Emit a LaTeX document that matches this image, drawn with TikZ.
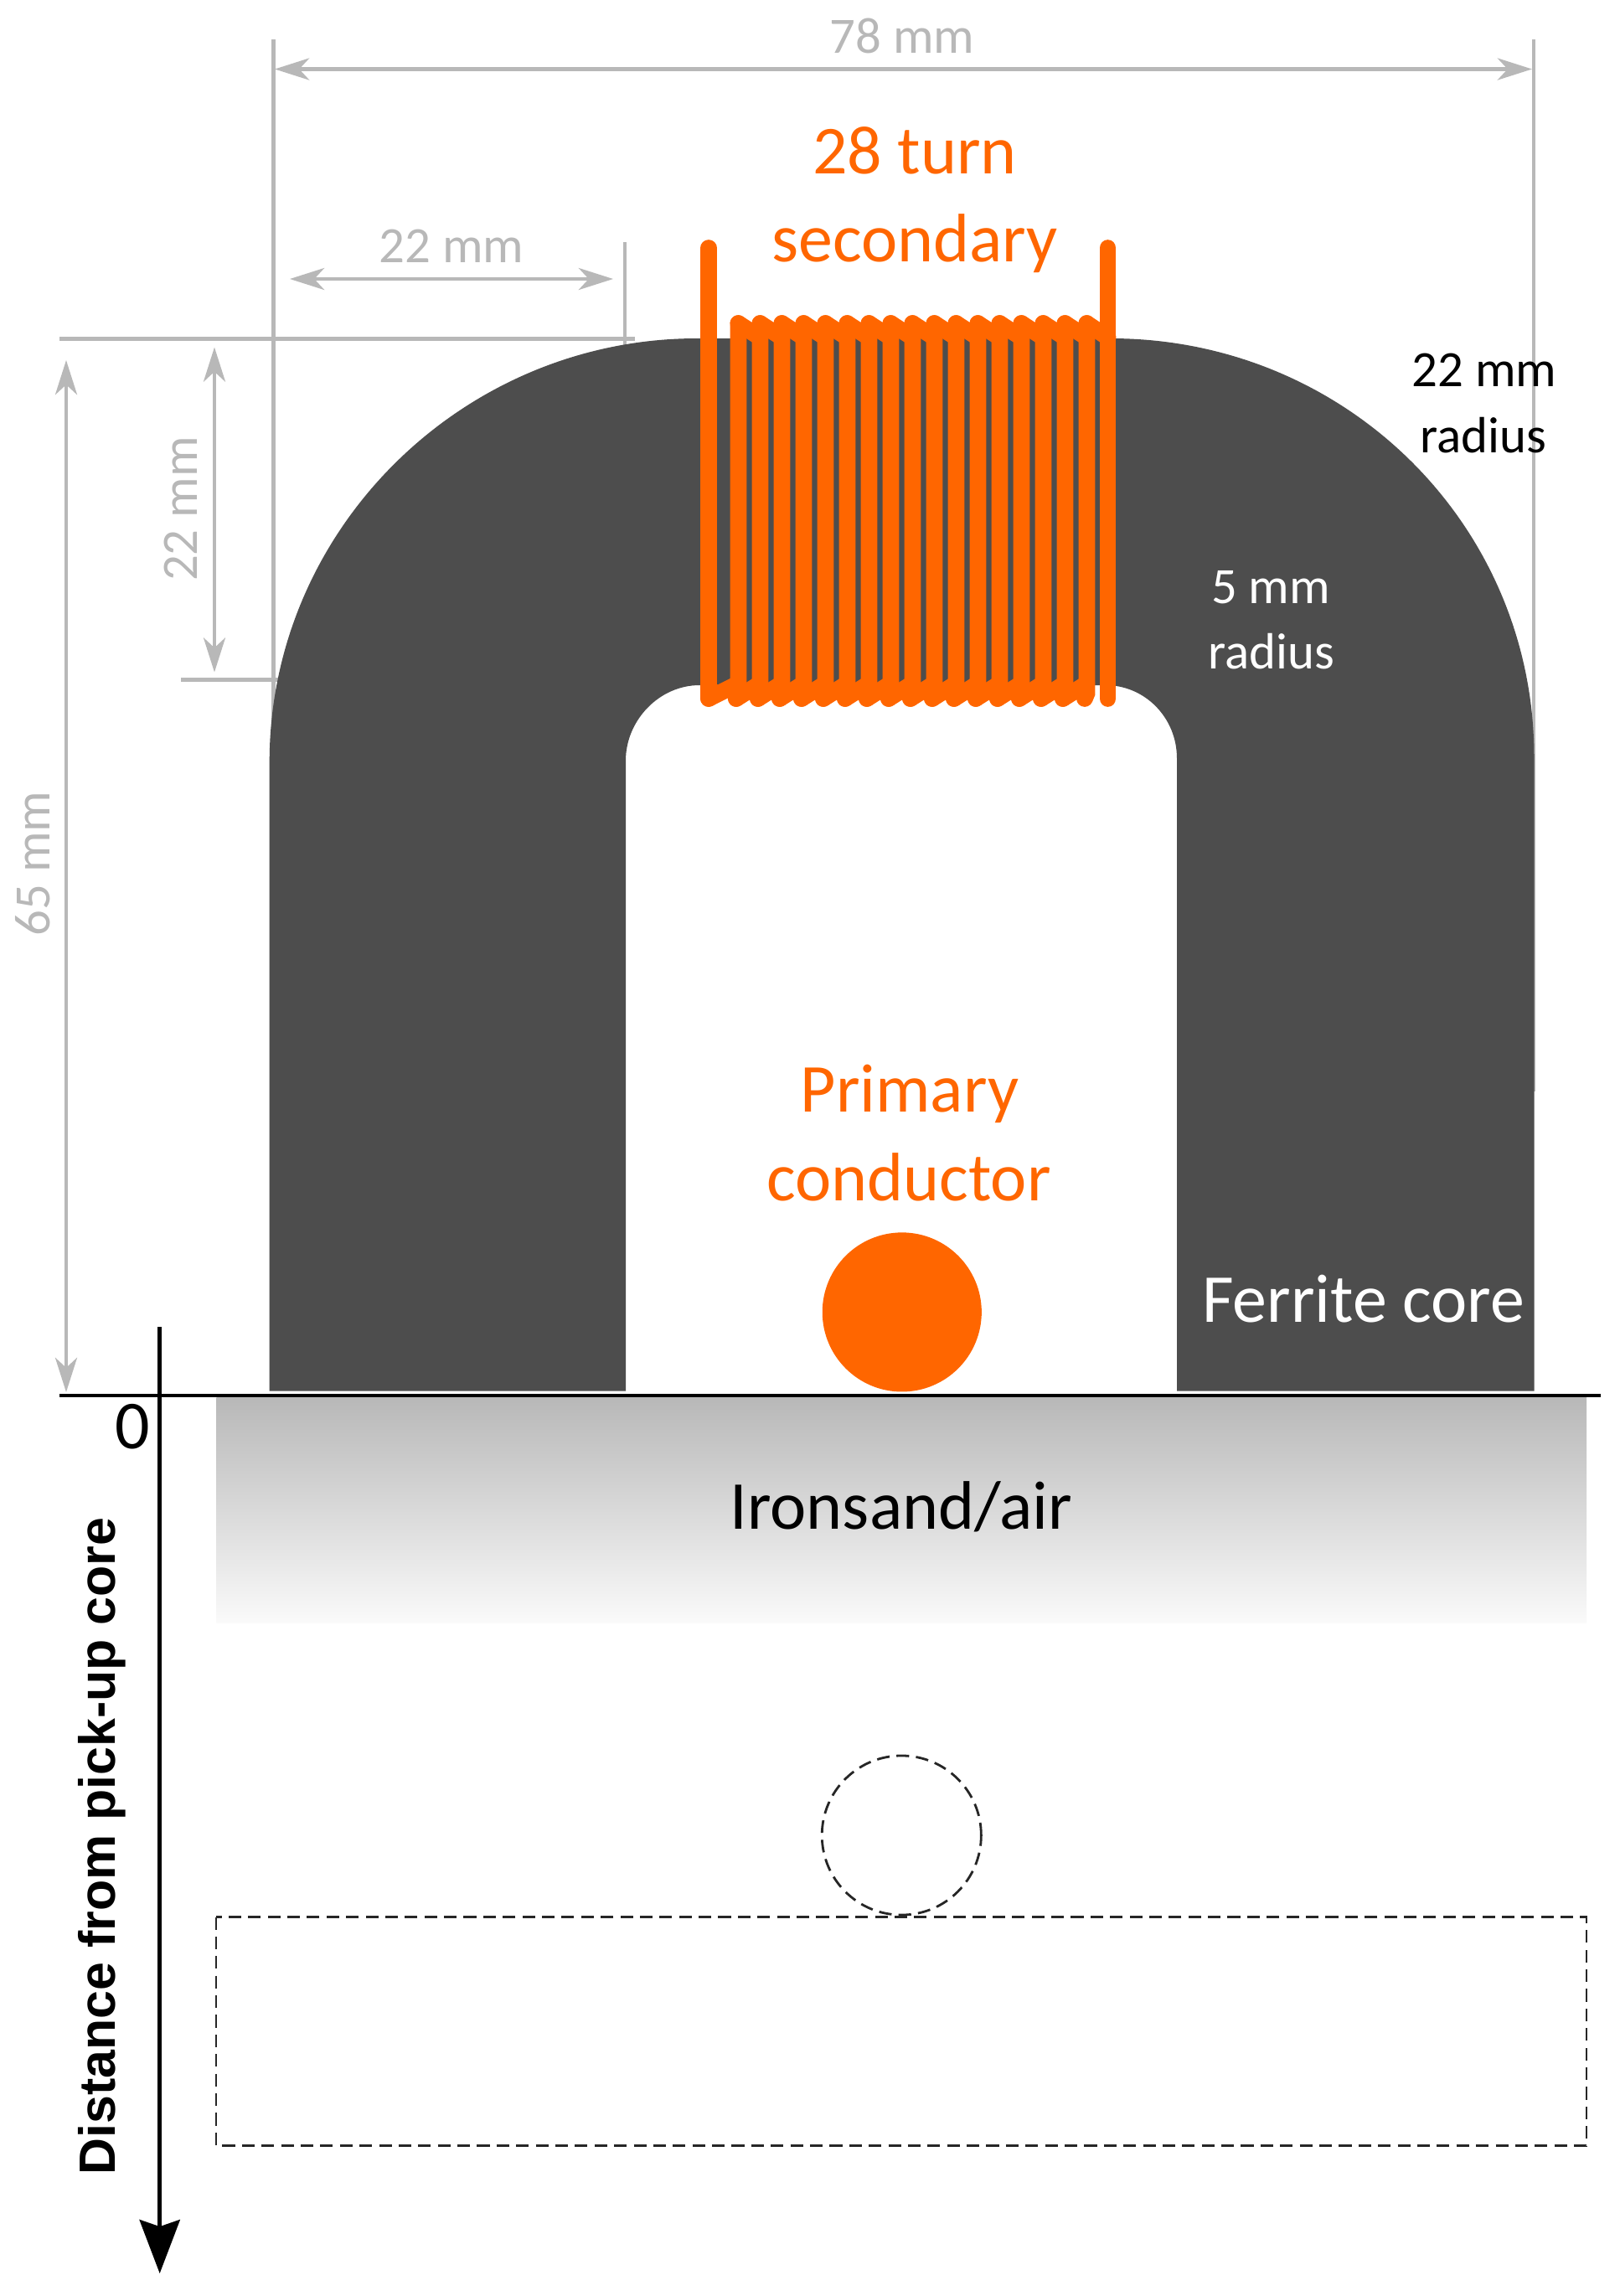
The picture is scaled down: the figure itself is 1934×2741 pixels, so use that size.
\documentclass[tikz,border=0pt]{standalone}
\usepackage{fontspec}
\setmainfont{Carlito}
\newfontfamily\axisfont{Liberation Sans}
\usepackage{tikz}
\usetikzlibrary{arrows.meta}
\definecolor{coreGray}{HTML}{4D4D4D}
\definecolor{dimGray}{HTML}{B8B8B8}
\definecolor{wireOrange}{HTML}{FF6600}
\tikzset{
  dimline/.style={draw=dimGray,line width=1.3pt},
  dimarrow/.style={dimline,{Stealth[length=11.7pt,width=7.4pt,inset=3.4pt]}-{Stealth[length=11.7pt,width=7.4pt,inset=3.4pt]}},
  wire/.style={draw=wireOrange,line width=5.6pt,line cap=round},
  outline/.style={draw=black!85,line width=0.8pt,dash pattern=on 4.3pt off 2.35pt},
  smalltext/.style={anchor=base,inner sep=0pt,font=\fontsize{17.3}{20}\selectfont},
  largetext/.style={anchor=base,inner sep=0pt,font=\fontsize{23.3}{27}\selectfont},
  round/.style={circle,inner sep=0pt,minimum size=1.9cm}
}
\begin{document}
\begin{tikzpicture}[x=0.01cm,y=-0.01cm]
  \useasboundingbox (0,0) rectangle (1934,2741);
  % dimension lines
  \coordinate (L-a) at (326.6,47);   \coordinate (L-b) at (326.6,1303);
  \coordinate (R-a) at (1831,47);    \coordinate (R-b) at (1831,1303);
  \coordinate (H-a) at (71,404.7);   \coordinate (H-b) at (758,404.7);
  \coordinate (S-a) at (746,289);    \coordinate (S-b) at (746,413);
  \coordinate (K-a) at (216,811.7);  \coordinate (K-b) at (333,811.7);
  \foreach \a/\b in {L-a/L-b,R-a/R-b,H-a/H-b,K-a/K-b}{%
    \draw[dimline] (\a) -- (\b);
  }
  \draw[dimline,line width=0.9pt] (S-a) -- (S-b);
  \coordinate (A-a) at (328,82.5);   \coordinate (A-b) at (1829,82.5);
  \coordinate (B-a) at (346,333);    \coordinate (B-b) at (732,333);
  \coordinate (C-a) at (256,414.5);  \coordinate (C-b) at (256,802.5);
  \coordinate (D-a) at (79,430);     \coordinate (D-b) at (79,1662);
  \foreach \a/\b in {A-a/A-b,B-a/B-b,C-a/C-b,D-a/D-b}{%
    \draw[dimarrow] (\a) -- (\b);
  }
  % ferrite core
  \fill[coreGray] (321.7,1660.5) -- (321.7,910) .. controls (321.7,631) and (553,404) .. (832,404)
    -- (1326,404) .. controls (1605,404) and (1831.5,625) .. (1831.5,904) -- (1831.5,1660.5)
    -- (1405,1660.5) -- (1405,905) .. controls (1405,857) and (1367,818) .. (1320,818)
    -- (835,818) .. controls (787,818) and (747,860) .. (747,908) -- (747,1660.5) -- cycle;
  % secondary winding
  \foreach \x in {1,...,17}{%
    \pgfmathsetmacro{\tx}{881.4+(\x-1)*26}
    \pgfmathsetmacro{\bx}{\tx-2.5}
    \coordinate (T-\x) at (\tx,386);
    \coordinate (U-\x) at (\tx,403);
    \coordinate (M-\x) at (\tx,828);
    \coordinate (V-\x) at (\tx,816);
    \coordinate (B-\x) at (\bx,834);
    \draw[wire] (T-\x) -- (M-\x) -- (B-\x);
  }
  \coordinate (T-0) at (846,296);    \coordinate (B-0) at (846,834);
  \coordinate (T-18) at (1322.6,296); \coordinate (B-18) at (1322.6,834);
  \coordinate (U-18) at (1322.6,403);
  \draw[wire] (T-0) -- (B-0);
  \draw[wire] (T-18) -- (B-18);
  \foreach \x [count=\xi from 1] in {0,...,16}{%
    \draw[wire] (B-\x) -- (V-\xi);
  }
  \foreach \x [count=\xi from 2] in {1,...,17}{%
    \draw[wire] (T-\x) -- (U-\xi);
  }
  \fill[wireOrange] (881,392) rectangle (1322,403);
  \fill[wireOrange] (846,817) rectangle (1298,829);
  % primary conductor and ironsand
  \node[round,fill=wireOrange] (primary) at (1076.8,1566.4) {};
  \shade[top color=dimGray,bottom color=black!2] (258.3,1668) rectangle (1894,1937);
  \node[round,outline] (image) at (1076.3,2191) {};
  \draw[outline] (258,2288.5) rectangle (1894,2561.7);
  % axes
  \coordinate (X-a) at (71,1665.7);  \coordinate (X-b) at (1911,1665.7);
  \coordinate (Y-a) at (190.7,1584); \coordinate (Y-b) at (190.7,2714);
  \draw[line width=1.25pt] (X-a) -- (X-b);
  \draw[line width=1.4pt,-{Stealth[length=18.2pt,width=13.7pt,inset=2.3pt]}] (Y-a) -- (Y-b);
  % labels
  \node[smalltext,dimGray] (width-all) at (1077,63) {78 mm};
  \node[smalltext,dimGray] (width-arc) at (539,313) {22 mm};
  \node[smalltext,dimGray,rotate=90] (height-arc) at (235,607.6) {22 mm};
  \node[smalltext,dimGray,rotate=90] (height-all) at (60,1031) {65 mm};
  \node[smalltext] (outer-a) at (1772,461) {22 mm};
  \node[smalltext] (outer-b) at (1771,540) {radius};
  \node[smalltext,white] (inner-a) at (1517,720) {5 mm};
  \node[smalltext,white] (inner-b) at (1518,798) {radius};
  \node[largetext,wireOrange] (turns-a) at (1092,207) {28 turn};
  \node[largetext,wireOrange] (turns-b) at (1092,312) {secondary};
  \node[largetext,wireOrange] (cond-a) at (1086,1327) {Primary};
  \node[largetext,wireOrange] (cond-b) at (1085,1433) {conductor};
  \node[largetext,white] (core) at (1627.6,1578) {Ferrite core};
  \node[largetext] (sand) at (1076,1825) {Ironsand/air};
  \node[largetext] (zero) at (158,1729) {0};
  \node[anchor=base,inner sep=0pt,rotate=90,font=\axisfont\bfseries\fontsize{17.3}{20}\selectfont] (axis) at (137.7,2204) {Distance from pick-up core};
\end{tikzpicture}
\end{document}
